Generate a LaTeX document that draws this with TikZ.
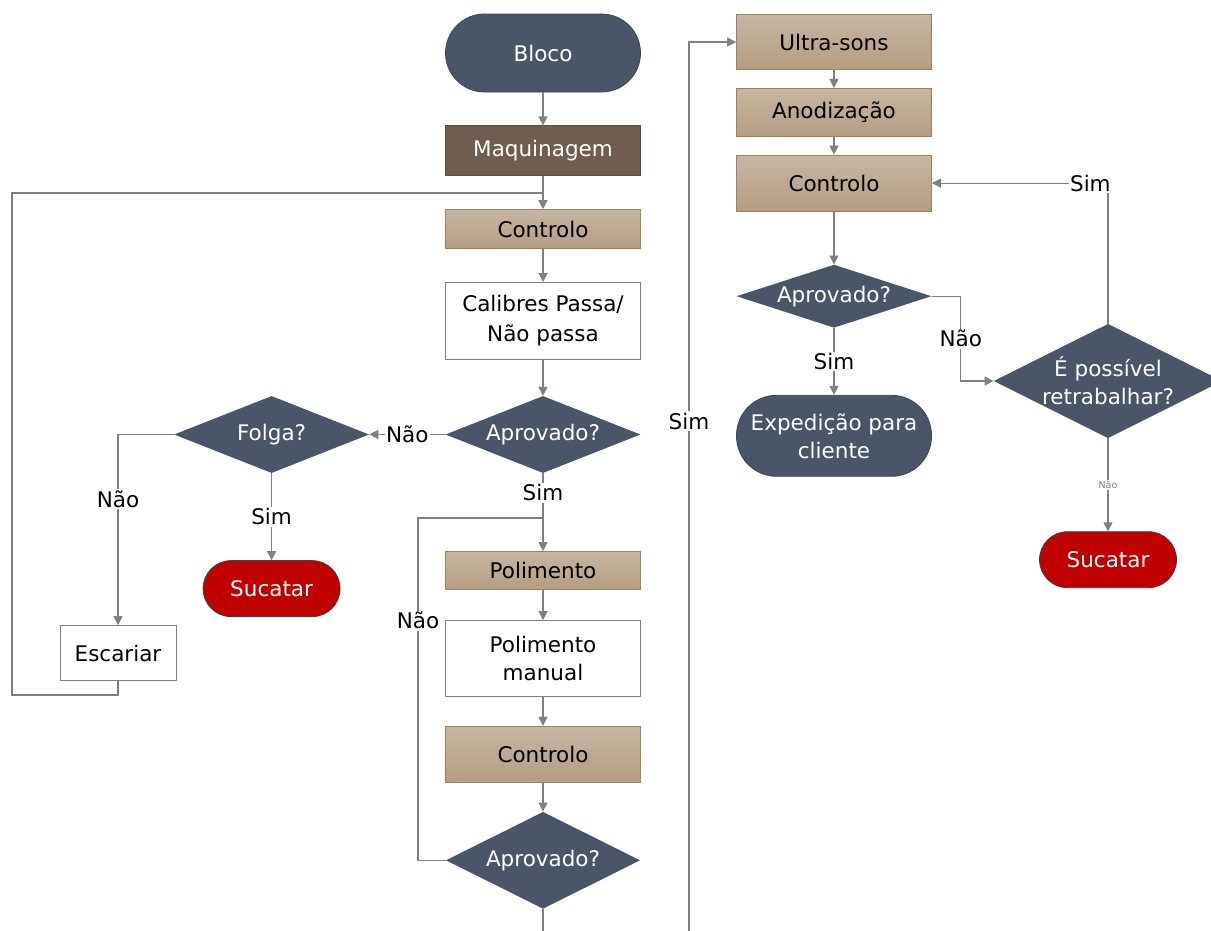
\documentclass[tikz,border=0pt]{standalone}
\usepackage{fontspec}
\setmainfont{DejaVu Sans}
\usetikzlibrary{positioning, arrows.meta, shapes.geometric}
\definecolor{slate}{RGB}{74,86,103}
\definecolor{slateline}{RGB}{58,68,82}
\definecolor{scrap}{RGB}{192,0,0}
\definecolor{machine}{RGB}{110,93,80}
\definecolor{tantop}{RGB}{198,182,162}
\definecolor{tanbot}{RGB}{180,158,130}
\definecolor{tanline}{RGB}{160,128,92}
\definecolor{wire}{RGB}{128,128,128}

\begin{document}
\begin{tikzpicture}[
    x=1pt, y=-1pt,
    every node/.style={font=\fontsize{21.5}{28}\selectfont, align=center},
    terminal/.style={rectangle, rounded corners=#1, fill=slate, draw=slateline,
                     line width=0.8pt, text=white, minimum width=195pt},
    redend/.style={terminal=#1, fill=scrap, draw=black!75, minimum width=137pt},
    tanstep/.style={rectangle, top color=tantop, bottom color=tanbot, draw=tanline,
                    line width=0.8pt, minimum width=195pt},
    darkstep/.style={rectangle, fill=machine, draw=machine!85!black, line width=0.8pt,
                     text=white, minimum width=195pt},
    plainstep/.style={rectangle, fill=white, draw=wire, line width=0.8pt, minimum width=195pt},
    decision/.style={diamond, fill=slate, text=white, inner sep=0pt,
                     shape aspect=2.5, minimum width=195pt},
    wire/.style={draw=wire, line width=1.2pt},
    link/.style={wire, -{Triangle[length=9pt, width=9pt]}},
    lbl/.style={fill=white, inner sep=1.5pt},
    tinylbl/.style={fill=white, inner sep=1pt, text=wire, font=\fontsize{9.5}{10}\selectfont},
]

\useasboundingbox (0,0) rectangle (1211,930);
\fill[white] (0,0) rectangle (1211,930);

% main column
\node[terminal=39pt, minimum height=78pt] (bloco) at (543,53) {Bloco};
\node[darkstep, minimum height=50pt, below=33pt of bloco] (maq) {Maquinagem};
\node[tanstep, minimum height=39pt, below=33pt of maq] (ctrl1) {Controlo};
\node[plainstep, minimum height=77pt, below=33pt of ctrl1, font=\fontsize{21.5}{30}\selectfont] (cal) {Calibres Passa/\\Não passa};
\node[decision, minimum height=77pt, below=36pt of cal] (apr1) {Aprovado?};
\node[tanstep, minimum height=38pt, below=78pt of apr1] (pol) {Polimento};
\node[plainstep, minimum height=76pt, below=30pt of pol] (polm) {Polimento\\manual};
\node[tanstep, minimum height=56pt, below=29pt of polm] (ctrl2) {Controlo};
\node[decision, minimum width=194pt, minimum height=97pt, below=29pt of ctrl2] (apr2) {Aprovado?};

% clearance branch
\node[decision, minimum height=77pt, left=76pt of apr1] (folga) {Folga?};
\node[redend=28pt, minimum height=56pt, below=87pt of folga] (suc1) {Sucatar};
\node[plainstep, minimum width=116pt, minimum height=55pt] (esc) at (118,653) {Escariar};

% finishing column
\node[tanstep, minimum height=55pt] (ultra) at (834,42) {Ultra-sons};
\node[tanstep, minimum height=48pt, below=18pt of ultra] (anod) {Anodização};
\node[tanstep, minimum height=56pt, below=18pt of anod] (ctrl3) {Controlo};
\node[decision, shape aspect=3, minimum height=63pt, below=53pt of ctrl3] (apr3) {Aprovado?};
\node[terminal=40pt, minimum height=81pt, below=67pt of apr3] (exped) {Expedição para\\cliente};
\node[decision, shape aspect=2, minimum width=226pt, minimum height=113pt] (poss) at (1108,381) {É possível\\retrabalhar?};
\node[redend=28pt, minimum height=56pt, below=93pt of poss] (suc2) {Sucatar};

% loop corners
\coordinate (j1) at (543,193);
\coordinate (loopA) at (12,695);
\coordinate (j2) at (543,518);
\coordinate (loopB) at (418,518);
\coordinate (loopC) at (689,945);

% main flow
\draw[link] (bloco) -- (maq);
\draw[link] (maq) -- (ctrl1);
\draw[link] (ctrl1) -- (cal);
\draw[link] (cal) -- (apr1);
\draw[link] (apr1) -- node[lbl] {Não} (folga);
\draw[link] (folga.west) -| node[lbl, pos=0.67] {Não} (esc.north);
\draw[link] (folga) -- node[lbl] {Sim} (suc1);
\draw[wire] (esc.south) |- (loopA) |- (j1);
\draw[link] (apr1) -- node[lbl, pos=0.25] {Sim} (pol);
\draw[link] (pol) -- (polm);
\draw[link] (polm) -- (ctrl2);
\draw[link] (ctrl2) -- (apr2);
\draw[wire] (apr2.west) -| node[lbl, pos=0.85] {Não} (loopB) -- (j2);
\draw[link] (apr2.south) |- (loopC) |- node[lbl, pos=0.29] {Sim} (ultra.west);

% finishing flow
\draw[link] (ultra) -- (anod);
\draw[link] (anod) -- (ctrl3);
\draw[link] (ctrl3) -- (apr3);
\draw[link] (apr3) -- node[lbl] {Sim} (exped);
\draw[link] (apr3.east) -- ++(29,0) |- node[lbl, pos=0.25] {Não} (poss.west);
\draw[link] (poss.north) |- node[lbl, pos=0.55] {Sim} (ctrl3.east);
\draw[link] (poss) -- node[tinylbl] {Não} (suc2);

\end{tikzpicture}
\end{document}
